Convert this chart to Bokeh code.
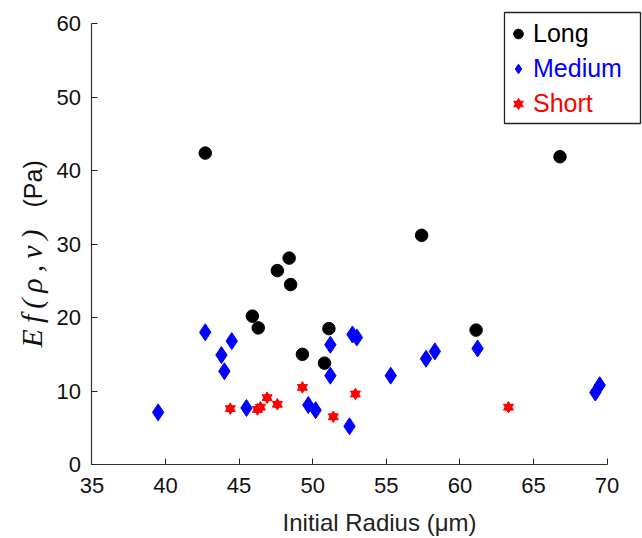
import math
from bokeh.plotting import figure
from bokeh.models import (Legend, LegendItem, BoxAnnotation, Label, Range1d,
                          FixedTicker)
from bokeh.embed import file_html
from bokeh.resources import INLINE

# ---- data ----
long_x = [42.7, 47.6, 48.4, 48.5, 45.9, 46.3, 51.1, 49.3, 50.8, 57.4, 61.1, 66.8]
long_y = [42.4, 26.4, 28.1, 24.5, 20.2, 18.6, 18.5, 15.0, 13.8, 31.2, 18.3, 41.9]

medium_x = [39.5, 42.7, 43.8, 44.5, 44.0, 45.5, 49.7, 50.2, 51.2, 51.2, 52.5,
            52.7, 53.0, 55.3, 57.7, 58.3, 61.2, 69.2, 69.5]
medium_y = [7.1, 18.0, 14.9, 16.8, 12.7, 7.7, 8.1, 7.4, 16.3, 12.1, 5.2,
            17.7, 17.3, 12.1, 14.4, 15.4, 15.8, 9.8, 10.8]

short_x = [44.4, 46.25, 46.45, 46.9, 47.6, 49.3, 51.4, 52.9, 63.3]
short_y = [7.6, 7.5, 7.8, 9.1, 8.2, 10.5, 6.5, 9.6, 7.8]

x_ticks = [35, 40, 45, 50, 55, 60, 65, 70]
y_ticks = [0, 10, 20, 30, 40, 50, 60]
series_names = ["Long", "Medium", "Short"]
series_colors = ["#000000", "#0000FF", "#FF0000"]
x_label = "Initial Radius (\u03bcm)"
y_label_math = "E\u2009f\u2009(\u2009\u03c1\u2009,\u2009v\u2009)"
y_label_unit = "(Pa)"

FONT = "Liberation Sans"
W, H = 642, 538
# pixel placement of the data box inside the canvas
AX_LEFT, AX_RIGHT, AX_TOP, AX_BOTTOM = 91.4, 606.6, 23.3, 464.0
X0, X1 = x_ticks[0], x_ticks[-1]
Y0, Y1 = y_ticks[0], y_ticks[-1]
sx = (AX_RIGHT - AX_LEFT) / (X1 - X0)
sy = (AX_BOTTOM - AX_TOP) / (Y1 - Y0)
xr = Range1d(X0 - AX_LEFT / sx, X0 + (W - AX_LEFT) / sx)
yr = Range1d(Y0 - (H - AX_BOTTOM) / sy, Y0 + AX_BOTTOM / sy)

p = figure(width=W, height=H, output_backend="svg", toolbar_location=None,
           x_range=xr, y_range=yr,
           min_border=0, min_border_left=0, min_border_right=0,
           min_border_top=0, min_border_bottom=0)
p.outline_line_color = None
p.xgrid.grid_line_color = None
p.ygrid.grid_line_color = None
p.background_fill_color = "white"
p.border_fill_color = "white"

p.xaxis.fixed_location = Y0
p.yaxis.fixed_location = X0
p.xaxis.bounds = (X0, X1)
p.yaxis.bounds = (Y0, Y1)
for ax, ticks in ((p.xaxis, x_ticks), (p.yaxis, y_ticks)):
    ax.ticker = FixedTicker(ticks=ticks)
    ax.minor_tick_line_color = None
    ax.major_tick_in = 6
    ax.major_tick_out = 0
    ax.major_tick_line_color = "#222222"
    ax.axis_line_color = "#333333"
    ax.axis_line_width = 1.2
    ax.major_label_text_font = FONT
    ax.major_label_text_font_size = "22px"
    ax.major_label_text_color = "#111111"
p.xaxis.major_label_standoff = 13
p.yaxis.major_label_standoff = 11

r_long = p.scatter(long_x, long_y, marker="circle", size=12.5,
                   color=series_colors[0])
r_med = p.scatter(medium_x, medium_y, marker="diamond", size=17,
                  color=series_colors[1])
r_s1 = p.scatter(short_x, short_y, marker="triangle", size=10,
                 color=series_colors[2])
r_s2 = p.scatter(short_x, short_y, marker="inverted_triangle", size=10,
                 color=series_colors[2])

# legend frame (screen units: pixels from the bottom-left corner)
box = BoxAnnotation(left=504, right=640, bottom=H - 123, top=H - 12,
                    left_units="screen", right_units="screen",
                    top_units="screen", bottom_units="screen",
                    fill_color="white", fill_alpha=1.0,
                    line_color="#222222", line_width=1.3, line_alpha=1.0,
                    level="annotation")
p.add_layout(box)

renderer_sets = [[r_long], [r_med], [r_s1, r_s2]]
for i, (name, col, rs) in enumerate(zip(series_names, series_colors, renderer_sets)):
    lg = Legend(items=[LegendItem(label=name, renderers=rs)],
                location=(506, H - 50.5 - 35 * i),
                padding=0, margin=0, spacing=0,
                glyph_width=24, glyph_height=35, label_height=35,
                label_standoff=3,
                label_text_font=FONT, label_text_font_size="25px",
                label_text_color=col, label_text_baseline="middle",
                background_fill_alpha=0, border_line_alpha=0)
    p.add_layout(lg, "center")

# axis titles
p.add_layout(Label(x=379, y=H - 522, x_units="screen", y_units="screen",
                   text=x_label, text_font=FONT, text_font_size="24px",
                   text_color="#222222", text_align="center",
                   text_baseline="middle"))
p.add_layout(Label(x=31, y=H - 288, x_units="screen", y_units="screen",
                   text=y_label_math, text_font="Liberation Serif",
                   text_font_style="italic", text_font_size="30px",
                   text_color="#111111", text_align="center",
                   text_baseline="middle", angle=math.pi / 2))
p.add_layout(Label(x=32, y=H - 207, x_units="screen", y_units="screen",
                   text=y_label_unit, text_font=FONT, text_font_size="25px",
                   text_color="#111111", text_align="left",
                   text_baseline="middle", angle=math.pi / 2))

open("out.html", "w").write(file_html(p, INLINE))
